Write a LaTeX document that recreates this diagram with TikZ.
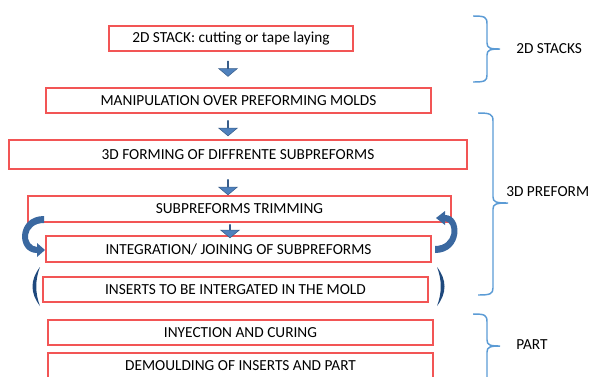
\documentclass[tikz,border=0pt]{standalone}
\usepackage{fontspec}
\setmainfont{Carlito}
\usepackage{tikz}
\usetikzlibrary{shapes.arrows}

\definecolor{boxred}{RGB}{242,85,85}
\definecolor{arrowblue}{RGB}{79,129,189}
\definecolor{arrowedge}{RGB}{56,93,138}
\definecolor{curveblue}{RGB}{58,104,160}
\definecolor{bracketblue}{RGB}{91,155,213}
\definecolor{parenblue}{RGB}{31,73,125}

\begin{document}
\begin{tikzpicture}[x=0.75pt,y=0.75pt,yscale=-1,xscale=1,
  stage/.style={draw=boxred, line width=0.9pt, minimum height=18.75pt, inner sep=0pt, font=\fontsize{11.5}{13}\selectfont},
  downarrow/.style={single arrow, shape border rotate=270, fill=arrowblue, draw=arrowedge, line width=0.4pt, minimum height=11.5pt, minimum width=14pt, single arrow head extend=3.6pt, single arrow tip angle=100, inner sep=0pt},
  bracket/.style={draw=bracketblue, line width=1.1pt},
  phase/.style={anchor=west, inner sep=0pt, font=\fontsize{11.5}{13}\selectfont}]
\clip (0,0) rectangle (591,376);

% Process boxes
\node[stage, minimum width=183pt] (stack) at (231,38.5) {2D STACK: cutting or tape laying};
\node[stage, minimum width=288.75pt] (manip) at (238.5,100.5) {MANIPULATION OVER PREFORMING MOLDS};
\node[stage, minimum width=343.5pt, minimum height=21.75pt] (forming) at (238,154.5) {3D FORMING OF DIFFRENTE SUBPREFORMS};
\node[stage, minimum width=317.25pt, minimum height=19.5pt] (trim) at (239.5,209) {SUBPREFORMS TRIMMING};
\node[stage, minimum width=288.75pt, minimum height=19.5pt] (integ) at (238.5,249) {INTEGRATION/ JOINING OF SUBPREFORMS};
\node[stage, minimum width=288.75pt] (inserts) at (235.5,289.5) {INSERTS TO BE INTERGATED IN THE MOLD};
\node[stage, minimum width=288.75pt] (inyect) at (240.5,332.5) {INYECTION AND CURING};
\node[stage, minimum width=288.75pt] (demould) at (240.5,365.5) {DEMOULDING OF INSERTS AND PART};

% Block arrows
\node[downarrow] (a1) at (228,68.5) {};
\node[downarrow] (a2) at (228,128) {};
\node[downarrow] (a3) at (228,187) {};
\node[downarrow, minimum height=10pt] (a4) at (230,231) {};

%Curved arrow left
\fill[curveblue] (44,216) .. controls (16,216) and (16,253) .. (37,253) -- (37,257) -- (45,250) -- (37,243) -- (37,247) .. controls (24,246) and (24,223) .. (44,223) -- cycle;
%Curved arrow right
\fill[curveblue] (435,253) .. controls (463,253) and (463,215) .. (445,215) -- (445,211) -- (436,218) -- (445,225) -- (445,221) .. controls (455,222) and (455,246) .. (435,246) -- cycle;

%Parentheses
\fill[parenblue] (40,267) .. controls (30,280) and (30,293) .. (40,306) .. controls (35,293) and (35,280) .. (40,267) -- cycle;
\fill[parenblue] (437,267) .. controls (447,280) and (447,293) .. (437,306) .. controls (442,293) and (442,280) .. (437,267) -- cycle;

% Phase labels
\node[phase] (stacks) at (516,49) {2D STACKS};
\node[phase] (preform) at (506,192) {3D PREFORM};
\node[phase] (part) at (516,345) {PART};

%Braces
\draw[bracket] (473,16) .. controls (485,16) and (487,17) .. (487,24) -- (487,43) .. controls (487,48) and (490,49) .. (500,49) .. controls (490,49) and (487,50) .. (487,55) -- (487,75) .. controls (487,81) and (485,82) .. (473,82);
\draw[bracket] (478,113) .. controls (490,113) and (493,114) .. (493,121) -- (493,197) .. controls (493,202) and (496,203) .. (508,203) .. controls (496,203) and (493,204) .. (493,209) -- (493,288) .. controls (493,294) and (490,295) .. (478,295);
\draw[bracket] (473,314) .. controls (485,314) and (487,315) .. (487,322) -- (487,340) .. controls (487,345) and (490,346) .. (500,346) .. controls (490,346) and (487,347) .. (487,352) -- (487,380);
\end{tikzpicture}
\end{document}
